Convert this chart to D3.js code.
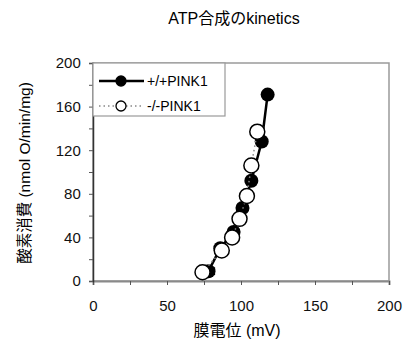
<!DOCTYPE html>
<html>
<head>
<meta charset="utf-8">
<script src="https://cdn.jsdelivr.net/npm/d3@7"></script>
<style>
  body { margin: 0; background: #fff; }
  svg { display: block; font-family: "Liberation Sans", Arial, "Noto Sans CJK JP", sans-serif; }
  .jp { font-family: "Liberation Sans", "Noto Sans CJK JP", sans-serif; }
</style>
</head>
<body>
<svg id="chart" width="406" height="341"></svg>
<script>
  // --- Data ----------------------------------------------------------
  const seriesNames = ["+/+PINK1", "-/-PINK1"];
  // membrane potential (mV) vs oxygen consumption
  const wildX = [78, 86, 95, 101, 107, 114, 118];
  const wildY = [9, 30, 45, 67, 92, 128, 171];
  const wildErrX = [4, 1, 1, 1, 1, 1, 1];
  const koX = [74, 87, 94, 99, 104, 107, 111];
  const koY = [8, 28, 40, 57, 78, 106, 137];
  const xTicks = [0, 50, 100, 150, 200];
  const yTicks = [0, 40, 80, 120, 160, 200];

  const svg = d3.select("#chart");
  const margin = { left: 93, top: 63, right: 17, bottom: 60 };
  const W = 406, H = 341;

  const x = d3.scaleLinear().domain([0, 200]).range([margin.left, W - margin.right]);
  const y = d3.scaleLinear().domain([0, 200]).range([H - margin.bottom, margin.top]);

  // title
  svg.append("text").attr("class", "jp")
    .attr("x", 234).attr("y", 24)
    .attr("text-anchor", "middle").attr("font-size", 16)
    .text("ATP合成のkinetics");

  // plot frame (grey)
  svg.append("rect")
    .attr("x", x(0)).attr("y", y(200))
    .attr("width", x(200) - x(0)).attr("height", y(0) - y(200))
    .attr("fill", "none").attr("stroke", "#9a9a9a").attr("stroke-width", 1.5);

  // axes
  const xAxis = d3.axisBottom(x).tickValues(d3.range(0, 201, 25)).tickSize(4)
    .tickFormat((d) => (xTicks.includes(d) ? d : ""));
  const gx = svg.append("g").attr("transform", `translate(0,${y(0)})`).call(xAxis);
  gx.select(".domain").attr("stroke", "#8a8a8a").attr("stroke-width", 2);
  gx.selectAll(".tick line").attr("stroke", "#555");
  gx.selectAll(".tick text").attr("font-size", 15).attr("fill", "#111").attr("dy", "1.55em");

  const yAxis = d3.axisLeft(y).tickValues(d3.range(0, 201, 20)).tickSize(4)
    .tickFormat((d) => (yTicks.includes(d) ? d : ""));
  const gy = svg.append("g").attr("transform", `translate(${x(0)},0)`).call(yAxis);
  gy.select(".domain").attr("stroke", "#333").attr("stroke-width", 1.5);
  gy.selectAll(".tick line").attr("stroke", "#555");
  gy.selectAll(".tick text").attr("font-size", 15).attr("fill", "#111").attr("dx", "-0.35em");

  // axis titles
  svg.append("text").attr("class", "jp")
    .attr("x", 237).attr("y", 336)
    .attr("text-anchor", "middle").attr("font-size", 16)
    .text("膜電位 (mV)");
  svg.append("text").attr("class", "jp")
    .attr("transform", "translate(30,173) rotate(-90)")
    .attr("text-anchor", "middle").attr("font-size", 15.5)
    .text("酸素消費 (nmol O/min/mg)");

  // --- Series -------------------------------------------------------
  const wild = wildX.map((v, i) => ({ x: v, y: wildY[i], e: wildErrX[i] }));
  const ko = koX.map((v, i) => ({ x: v, y: koY[i] }));
  const line = d3.line().x((d) => x(d.x)).y((d) => y(d.y));

  const plot = svg.append("g");
  // error bars (horizontal)
  plot.selectAll("g.err").data(wild).enter().append("g").attr("class", "err")
    .each(function (d) {
      const g = d3.select(this);
      g.append("line").attr("x1", x(d.x - d.e)).attr("x2", x(d.x + d.e))
        .attr("y1", y(d.y)).attr("y2", y(d.y)).attr("stroke", "#000").attr("stroke-width", 1.5);
      g.append("line").attr("x1", x(d.x + d.e)).attr("x2", x(d.x + d.e))
        .attr("y1", y(d.y) - 4).attr("y2", y(d.y) + 4).attr("stroke", "#000").attr("stroke-width", 1.5);
    });
  plot.append("path").datum(wild).attr("d", line)
    .attr("fill", "none").attr("stroke", "#000").attr("stroke-width", 2.5);
  plot.selectAll("circle.wild").data(wild).enter().append("circle").attr("class", "wild")
    .attr("cx", (d) => x(d.x)).attr("cy", (d) => y(d.y)).attr("r", 7)
    .attr("fill", "#000");

  plot.append("path").datum(ko).attr("d", line)
    .attr("fill", "none").attr("stroke", "#888").attr("stroke-width", 1.5)
    .attr("stroke-dasharray", "1.5,3");
  plot.selectAll("circle.ko").data(ko).enter().append("circle").attr("class", "ko")
    .attr("cx", (d) => x(d.x)).attr("cy", (d) => y(d.y)).attr("r", 7.5)
    .attr("fill", "#fff").attr("stroke", "#000").attr("stroke-width", 1.5);

  // --- Legend -------------------------------------------------------
  const leg = svg.append("g");
  leg.append("rect").attr("x", x(0)).attr("y", y(200))
    .attr("width", 132).attr("height", 53)
    .attr("fill", "#fff").attr("stroke", "#9a9a9a").attr("stroke-width", 1.2);
  const rows = [
    { name: seriesNames[0], y: 81, filled: true },
    { name: seriesNames[1], y: 106, filled: false },
  ];
  rows.forEach((r) => {
    leg.append("line").attr("x1", 99).attr("x2", 144).attr("y1", r.y).attr("y2", r.y)
      .attr("stroke", r.filled ? "#000" : "#888")
      .attr("stroke-width", r.filled ? 2.5 : 1.5)
      .attr("stroke-dasharray", r.filled ? null : "1.5,3");
    leg.append("circle").attr("cx", 121).attr("cy", r.y).attr("r", 5)
      .attr("fill", r.filled ? "#000" : "#fff").attr("stroke", "#000").attr("stroke-width", 1.3);
    leg.append("text").attr("x", 147).attr("y", r.y + 5).attr("font-size", 14)
      .text(r.name);
  });
</script>
</body>
</html>
